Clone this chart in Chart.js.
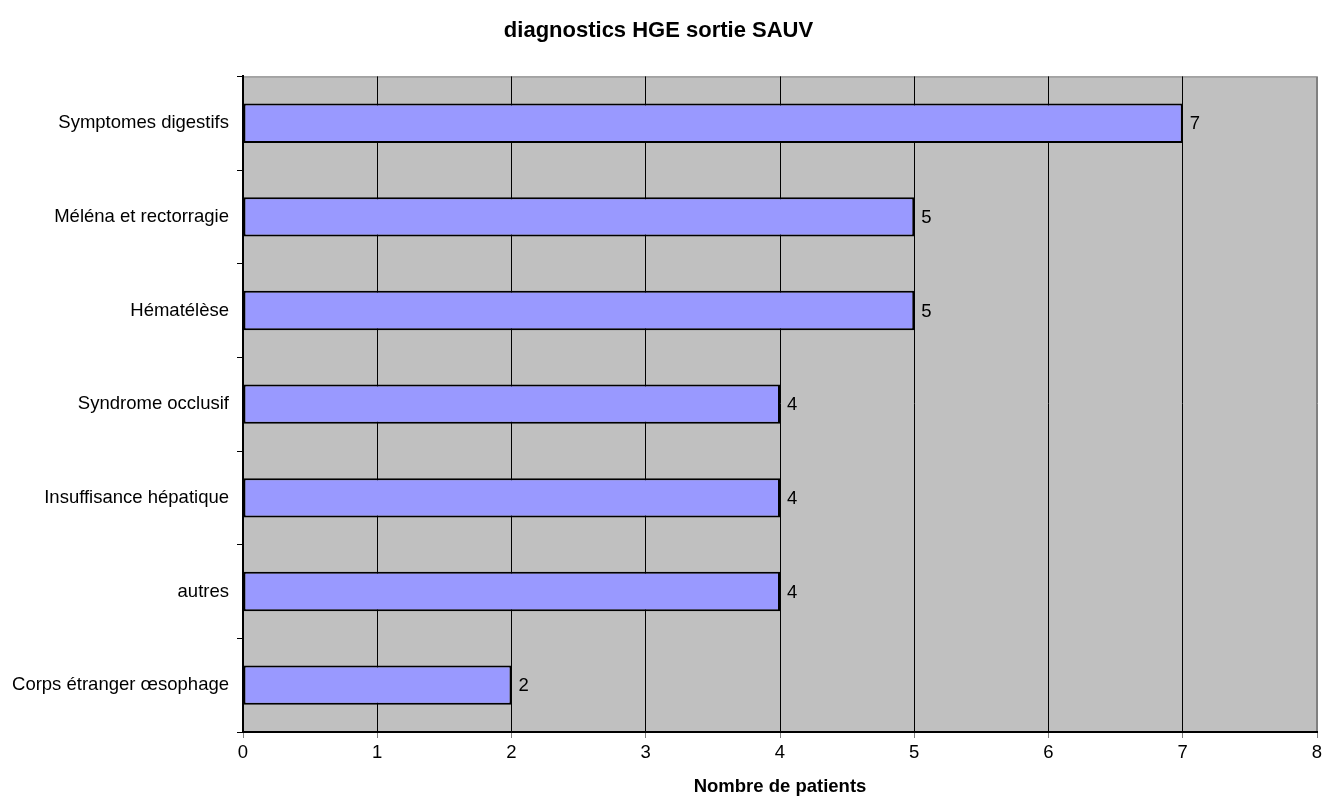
<!DOCTYPE html>
<html>
<head>
<meta charset="utf-8">
<script src="https://cdn.jsdelivr.net/npm/chart.js@4"></script>
<style>
    body { margin: 0; background: #fff; }
    #grafico { display: block; }
</style>
</head>
<body>
<canvas id="grafico" width="1324" height="799"></canvas>
<script>
const categorias = ['Symptomes digestifs', 'Méléna et rectorragie', 'Hématélèse', 'Syndrome occlusif', 'Insuffisance hépatique', 'autres', 'Corps étranger œsophage'];
const valores = [7, 5, 5, 4, 4, 4, 2];
const ticksX = [0, 1, 2, 3, 4, 5, 6, 7, 8];

const fonte = 'Arial, "Liberation Sans", sans-serif';

// fundo cinza da area do grafico + borda cinza
const fundoPlugin = {
    id: 'fundo',
    beforeDraw(chart) {
        const a = chart.chartArea;
        const ctx = chart.ctx;
        ctx.save();
        ctx.fillStyle = '#C0C0C0';
        ctx.fillRect(a.left, a.top, a.right - a.left, a.bottom - a.top);
        ctx.strokeStyle = '#808080';
        ctx.lineWidth = 1;
        ctx.strokeRect(a.left + 0.5, a.top + 0.5, a.right - a.left - 1, a.bottom - a.top);
        ctx.restore();
    }
};

// valores ao lado das barras
const rotulosPlugin = {
    id: 'rotulos',
    afterDatasetsDraw(chart) {
        const ctx = chart.ctx;
        const meta = chart.getDatasetMeta(0);
        ctx.save();
        ctx.font = '18.5px ' + fonte;
        ctx.fillStyle = '#000';
        ctx.textAlign = 'left';
        ctx.textBaseline = 'middle';
        meta.data.forEach((barra, i) => {
            ctx.fillText(String(valores[i]), barra.x + 7, barra.y + 1);
        });
        ctx.restore();
    }
};

new Chart(document.getElementById('grafico'), {
    type: 'bar',
    data: {
        labels: categorias,
        datasets: [
            {
                data: valores,
                backgroundColor: '#9999FF',
                borderColor: '#000',
                borderWidth: 2,
                borderSkipped: false,
                barPercentage: 0.42,
                categoryPercentage: 1
            }
        ]
    },
    options: {
        indexAxis: 'y',
        responsive: false,
        animation: false,
        layout: { padding: { top: 0, right: 7, bottom: 0, left: 0 } },
        plugins: {
            legend: { display: false },
            tooltip: { enabled: false },
            title: {
                display: true,
                text: 'diagnostics HGE sortie SAUV',
                color: '#000',
                font: { family: fonte, size: 22, weight: 'bold', lineHeight: 1.2 },
                padding: { top: 18, bottom: 32 }
            }
        },
        scales: {
            x: {
                min: 0,
                max: 8,
                afterFit: (s) => { s.height = 67; s.paddingLeft = 0; s.paddingRight = 0; },
                afterBuildTicks: (s) => { s.ticks = ticksX.map(v => ({ value: v })); },
                ticks: {
                    color: '#000',
                    font: { family: fonte, size: 18.5 },
                    padding: 4
                },
                grid: {
                    color: (c) => c.tick && c.tick.value === 8 ? '#808080' : '#000',
                    tickColor: '#808080',
                    tickLength: 6,
                    lineWidth: 1
                },
                border: { color: '#000', width: 2 },
                title: {
                    display: true,
                    text: 'Nombre de patients',
                    color: '#000',
                    font: { family: fonte, size: 18.5, weight: 'bold' },
                    padding: { top: 0, bottom: 1 }
                }
            },
            y: {
                afterFit: (s) => { s.width = 243; },
                ticks: {
                    color: '#000',
                    font: { family: fonte, size: 18.5 },
                    padding: 8
                },
                grid: {
                    drawOnChartArea: false,
                    tickColor: '#000',
                    tickLength: 6,
                    offset: true
                },
                border: { color: '#000', width: 2 }
            }
        }
    },
    plugins: [fundoPlugin, rotulosPlugin]
});
</script>
</body>
</html>
